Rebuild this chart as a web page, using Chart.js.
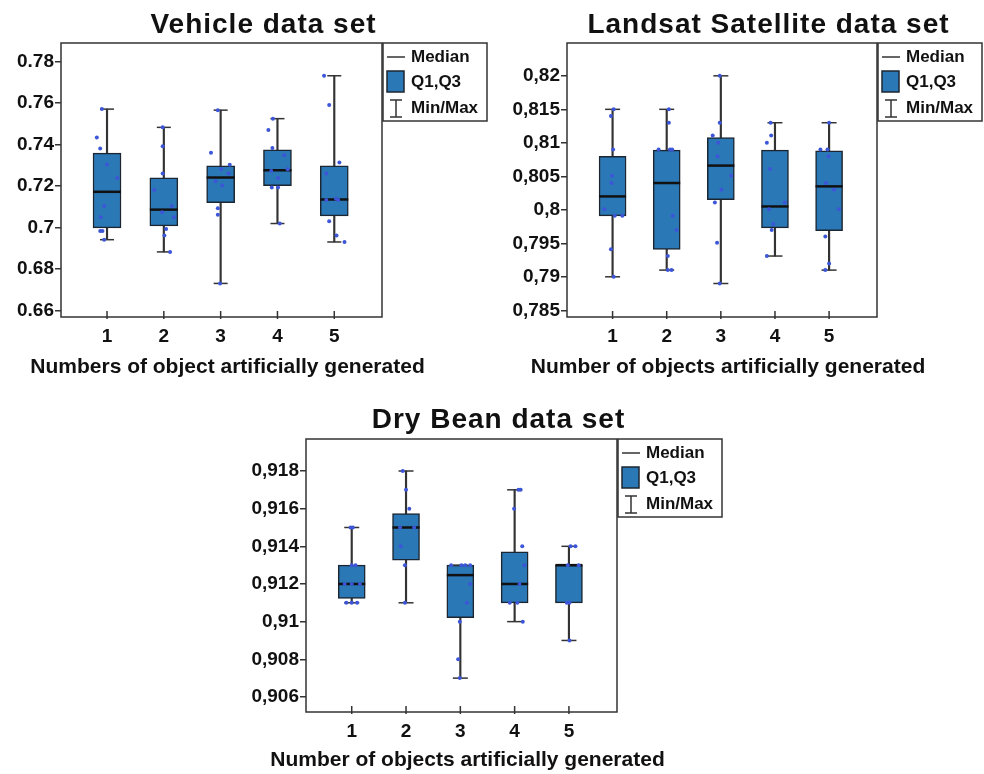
<!DOCTYPE html>
<html>
<head>
<meta charset="utf-8">
<script src="https://cdn.jsdelivr.net/npm/chart.js@4.4.1/dist/chart.umd.min.js"></script>
<style>
  body { margin: 0; background: #fff; width: 984px; height: 774px; position: relative; overflow: hidden; }
  canvas { position: absolute; }
</style>
</head>
<body>
<canvas id="vehicleChart" width="490" height="380" style="left:0;top:0"></canvas>
<canvas id="landsatChart" width="492" height="380" style="left:492px;top:0"></canvas>
<canvas id="beanChart" width="500" height="384" style="left:230px;top:390px"></canvas>
<script>
// categories (numbers of generated objects)
const categories = [1, 2, 3, 4, 5];
const categoryLabels = ['1', '2', '3', '4', '5'];
const legendLabels = ['Median', 'Q1,Q3', 'Min/Max'];

// --- Vehicle ---
const vehicleMin    = [0.6941, 0.6882, 0.6730, 0.7019, 0.6930];
const vehicleQ1     = [0.6998, 0.7008, 0.7120, 0.7202, 0.7056];
const vehicleMedian = [0.7172, 0.7086, 0.7241, 0.7276, 0.7135];
const vehicleQ3     = [0.7359, 0.7239, 0.7297, 0.7375, 0.7297];
const vehicleMax    = [0.7571, 0.7483, 0.7566, 0.7525, 0.7732];
const vehiclePoints = [
  [0.7571, 0.7434, 0.7381, 0.7304, 0.7239, 0.7103, 0.7049, 0.6983, 0.6983, 0.6941],
  [0.7483, 0.7392, 0.7260, 0.7181, 0.7074, 0.7103, 0.7049, 0.6993, 0.6961, 0.6882],
  [0.7566, 0.7360, 0.7281, 0.7302, 0.7260, 0.7223, 0.7202, 0.7093, 0.7061, 0.6730],
  [0.7525, 0.7470, 0.7383, 0.7349, 0.7281, 0.7272, 0.7239, 0.7193, 0.7193, 0.7019],
  [0.7732, 0.7591, 0.7314, 0.7260, 0.7132, 0.7138, 0.7132, 0.7030, 0.6961, 0.6930]
];
const vehicleJitter = [
  [-0.09, -0.18, -0.12, 0, 0.18, -0.05, -0.11, -0.12, -0.08, -0.05],
  [-0.02, -0.02, -0.02, -0.17, -0.03, 0.14, 0.18, 0.04, 0.01, 0.11],
  [-0.05, -0.17, 0.01, 0.16, 0.14, -0.09, 0.03, -0.05, -0.05, -0.01],
  [-0.08, -0.16, -0.09, 0.12, 0.18, -0.11, 0.01, -0.10, 0.01, 0.04],
  [-0.18, -0.09, 0.09, -0.14, -0.14, 0.03, 0.07, -0.09, 0.04, 0.18]
];
const vehicleTicks = [0.66, 0.68, 0.70, 0.72, 0.74, 0.76, 0.78];
const vehicleTickLabels = ['0.66', '0.68', '0.7', '0.72', '0.74', '0.76', '0.78'];

// --- Landsat Satellite ---
const landsatMin    = [0.7900, 0.7910, 0.7890, 0.7931, 0.7910];
const landsatQ1     = [0.7991, 0.7941, 0.8015, 0.7973, 0.7969];
const landsatMedian = [0.8020, 0.8040, 0.8066, 0.8005, 0.8035];
const landsatQ3     = [0.8080, 0.8089, 0.8108, 0.8089, 0.8088];
const landsatMax    = [0.8150, 0.8150, 0.8200, 0.8130, 0.8130];
const landsatPoints = [
  [0.815, 0.814, 0.809, 0.8051, 0.804, 0.8001, 0.7991, 0.7991, 0.7941, 0.790],
  [0.815, 0.813, 0.809, 0.809, 0.809, 0.7991, 0.797, 0.7931, 0.791, 0.791],
  [0.820, 0.813, 0.8111, 0.810, 0.808, 0.8051, 0.803, 0.8011, 0.7951, 0.789],
  [0.813, 0.8111, 0.810, 0.8061, 0.8011, 0.8001, 0.7979, 0.797, 0.7931],
  [0.813, 0.809, 0.809, 0.808, 0.804, 0.803, 0.8001, 0.796, 0.792, 0.791]
];
const landsatJitter = [
  [0.02, -0.03, 0.01, -0.01, -0.02, -0.15, 0.04, 0.18, -0.03, 0.02],
  [0.04, 0.04, -0.15, 0.06, 0.10, 0.11, 0.18, 0.02, 0.02, 0.09],
  [-0.02, -0.02, -0.15, -0.05, -0.06, 0.19, 0.01, -0.11, -0.07, -0.02],
  [-0.08, -0.07, -0.15, -0.09, 0.18, -0.11, -0.03, -0.06, -0.15],
  [0, -0.16, -0.03, -0.01, -0.06, 0.09, 0.18, -0.07, 0, -0.07]
];
const landsatTicks = [0.785, 0.79, 0.795, 0.8, 0.805, 0.81, 0.815, 0.82];
const landsatTickLabels = ['0,785', '0,79', '0,795', '0,8', '0,805', '0,81', '0,815', '0,82'];

// --- Dry Bean ---
const beanMin    = [0.911, 0.911, 0.907, 0.910, 0.909];
const beanQ1     = [0.91123, 0.91326, 0.91021, 0.911, 0.911];
const beanMedian = [0.912, 0.915, 0.91247, 0.912, 0.913];
const beanQ3     = [0.913, 0.91574, 0.913, 0.91371, 0.913];
const beanMax    = [0.915, 0.918, 0.913, 0.917, 0.914];
const beanPoints = [
  [0.915, 0.915, 0.913, 0.913, 0.912, 0.912, 0.912, 0.911, 0.911, 0.911],
  [0.918, 0.917, 0.916, 0.915, 0.915, 0.914, 0.913, 0.911],
  [0.913, 0.913, 0.913, 0.913, 0.912, 0.911, 0.910, 0.908, 0.907],
  [0.917, 0.917, 0.916, 0.914, 0.913, 0.912, 0.911, 0.911, 0.910],
  [0.914, 0.914, 0.913, 0.913, 0.911, 0.911, 0.909]
];
const beanJitter = [
  [-0.02, 0.02, 0, 0.07, -0.13, 0, 0.15, -0.10, 0, 0.10],
  [-0.06, 0, 0.06, -0.11, 0.15, -0.10, -0.02, -0.02],
  [-0.17, 0.02, 0.09, 0.18, 0.18, 0.12, -0.01, -0.04, -0.01],
  [0.07, 0.11, -0.01, 0.14, 0.18, 0.09, -0.09, 0.05, 0.15],
  [0.03, 0.12, -0.02, 0.18, -0.04, 0.01, 0.01]
];
const beanTicks = [0.906, 0.908, 0.91, 0.912, 0.914, 0.916, 0.918];
const beanTickLabels = ['0,906', '0,908', '0,91', '0,912', '0,914', '0,916', '0,918'];

// 色とフォント
const FONT = '"Liberation Sans", Arial, sans-serif';
const BOX_COLOR = '#2b78b7';
const DOT_COLOR = '#3d56d8';
const LINE_COLOR = '#333';

// 枠・内向きの目盛り・タイトル・x軸タイトル・凡例を描くプラグイン
const decorPlugin = {
  id: 'decor',
  afterDraw(chart, args, opts) {
    const ctx = chart.ctx;
    const a = chart.chartArea;
    const xs = chart.scales.x;
    ctx.save();
    ctx.strokeStyle = LINE_COLOR;
    ctx.lineWidth = 1.5;
    ctx.strokeRect(a.left, a.top, a.right - a.left, a.bottom - a.top);

    xs.ticks.forEach(t => {
      const px = xs.getPixelForValue(t.value);
      ctx.beginPath();
      ctx.moveTo(px, a.bottom - 6);
      ctx.lineTo(px, a.bottom + 2);
      ctx.stroke();
    });

    // title
    ctx.fillStyle = '#111';
    ctx.font = 'bold 28px ' + FONT;
    ctx.letterSpacing = '1px';
    ctx.textAlign = 'center';
    ctx.textBaseline = 'middle';
    ctx.fillText(opts.title, opts.titleX, opts.titleY);
    ctx.letterSpacing = '0px';

    // x axis title (wider than the plot, so not clipped to it)
    ctx.font = 'bold 21px ' + FONT;
    ctx.fillText(opts.xTitle, (a.left + a.right) / 2 + 6, a.bottom + opts.xTitleGap);

    // legend
    const L = a.right + 1, T = a.top;
    ctx.lineWidth = 1.5;
    ctx.strokeStyle = LINE_COLOR;
    ctx.strokeRect(L, T, 104, 78);
    ctx.beginPath();
    ctx.moveTo(L + 4, T + 14);
    ctx.lineTo(L + 22, T + 14);
    ctx.stroke();
    ctx.fillStyle = BOX_COLOR;
    ctx.fillRect(L + 4, T + 28, 17, 21);
    ctx.strokeStyle = '#1c2630';
    ctx.strokeRect(L + 4, T + 28, 17, 21);
    ctx.strokeStyle = LINE_COLOR;
    ctx.beginPath();
    ctx.moveTo(L + 13, T + 57); ctx.lineTo(L + 13, T + 74);
    ctx.moveTo(L + 7, T + 57); ctx.lineTo(L + 19, T + 57);
    ctx.moveTo(L + 7, T + 74); ctx.lineTo(L + 19, T + 74);
    ctx.stroke();
    ctx.fillStyle = '#111';
    ctx.font = 'bold 17px ' + FONT;
    ctx.textAlign = 'left';
    ctx.fillText(legendLabels[0], L + 28, T + 14.5);
    ctx.fillText(legendLabels[1], L + 28, T + 39.5);
    ctx.fillText(legendLabels[2], L + 28, T + 65);
    ctx.restore();
  }
};

function makeBoxChart(id, s) {
  const whiskers = categories.map((c, i) => ({ x: c, y: [s.min[i], s.max[i]] }));
  const boxes = categories.map((c, i) => ({ x: c, y: [s.q1[i], s.q3[i]] }));
  const medians = categories.map((c, i) => ({ x: c, y: s.median[i] }));
  const caps = categories.flatMap((c, i) => [{ x: c, y: s.min[i] }, { x: c, y: s.max[i] }]);
  const dots = s.points.flatMap((arr, i) => arr.map((v, j) => ({ x: categories[i] + s.jitter[i][j], y: v })));

  return new Chart(document.getElementById(id), {
    type: 'scatter',
    data: {
      datasets: [
        { type: 'bar', data: whiskers, backgroundColor: LINE_COLOR, barThickness: 1.5, grouped: false, order: 4 },
        { type: 'bar', data: boxes, backgroundColor: BOX_COLOR, borderColor: '#1c2630', borderWidth: 1.5,
          borderSkipped: false, barThickness: s.boxWidth, grouped: false, order: 3 },
        { data: caps, pointStyle: 'line', pointRadius: s.capHalf, borderColor: LINE_COLOR, borderWidth: 1.5, order: 2 },
        { data: medians, pointStyle: 'line', pointRadius: s.boxWidth / 2, borderColor: '#111', borderWidth: 2.5, order: 1 },
        { data: dots, pointStyle: 'circle', pointRadius: 2, backgroundColor: DOT_COLOR, borderWidth: 0, order: 0 }
      ]
    },
    options: {
      responsive: false,
      animation: false,
      events: [],
      layout: { padding: { left: 0, right: s.padRight, top: s.padTop, bottom: 0 } },
      scales: {
        x: {
          type: 'linear', min: s.xMin, max: s.xMax, offset: false,
          afterFit: sc => { sc.height = s.xHeight; },
          afterBuildTicks: sc => { sc.ticks = categories.map(v => ({ value: v })); },
          ticks: { callback: (v, i) => categoryLabels[i], font: { family: FONT, size: 19, weight: 'bold' }, color: '#111', padding: 8, maxRotation: 0 },
          grid: { display: false, drawTicks: false },
          border: { display: false }
        },
        y: {
          min: s.yMin, max: s.yMax,
          afterFit: sc => { sc.width = s.yWidth; },
          afterBuildTicks: sc => { sc.ticks = s.ticks.map(v => ({ value: v })); },
          ticks: { callback: (v, i) => s.tickLabels[i], font: { family: FONT, size: 19, weight: 'bold' }, color: '#111', padding: 1 },
          grid: { drawOnChartArea: false, tickLength: 6, color: LINE_COLOR, lineWidth: 1.5 },
          border: { display: false }
        }
      },
      plugins: {
        legend: { display: false },
        tooltip: { enabled: false },
        decor: { title: s.title, titleX: s.titleX, titleY: s.titleY, xTitle: s.xTitle, xTitleGap: s.xTitleGap }
      }
    },
    plugins: [decorPlugin]
  });
}

makeBoxChart('vehicleChart', {
  min: vehicleMin, q1: vehicleQ1, median: vehicleMedian, q3: vehicleQ3, max: vehicleMax,
  points: vehiclePoints, jitter: vehicleJitter, ticks: vehicleTicks, tickLabels: vehicleTickLabels,
  yMin: 0.6568, yMax: 0.789, xMin: 0.19, xMax: 5.84,
  boxWidth: 28, capHalf: 7, yWidth: 61, xHeight: 63, padTop: 43, padRight: 108,
  title: 'Vehicle data set', titleX: 263.5, titleY: 25,
  xTitle: 'Numbers of object artificially generated', xTitleGap: 50
});

makeBoxChart('landsatChart', {
  min: landsatMin, q1: landsatQ1, median: landsatMedian, q3: landsatQ3, max: landsatMax,
  points: landsatPoints, jitter: landsatJitter, ticks: landsatTicks, tickLabels: landsatTickLabels,
  yMin: 0.784, yMax: 0.8249, xMin: 0.158, xMax: 5.885,
  boxWidth: 27, capHalf: 7.5, yWidth: 75, xHeight: 63, padTop: 43, padRight: 107,
  title: 'Landsat Satellite data set', titleX: 276.5, titleY: 25,
  xTitle: 'Number of objects artificially generated', xTitleGap: 50
});

makeBoxChart('beanChart', {
  min: beanMin, q1: beanQ1, median: beanMedian, q3: beanQ3, max: beanMax,
  points: beanPoints, jitter: beanJitter, ticks: beanTicks, tickLabels: beanTickLabels,
  yMin: 0.9052, yMax: 0.9197, xMin: 0.158, xMax: 5.885,
  boxWidth: 27, capHalf: 7.5, yWidth: 76, xHeight: 62, padTop: 49, padRight: 113,
  title: 'Dry Bean data set', titleX: 268.5, titleY: 30,
  xTitle: 'Number of objects artificially generated', xTitleGap: 48
});
</script>
</body>
</html>
